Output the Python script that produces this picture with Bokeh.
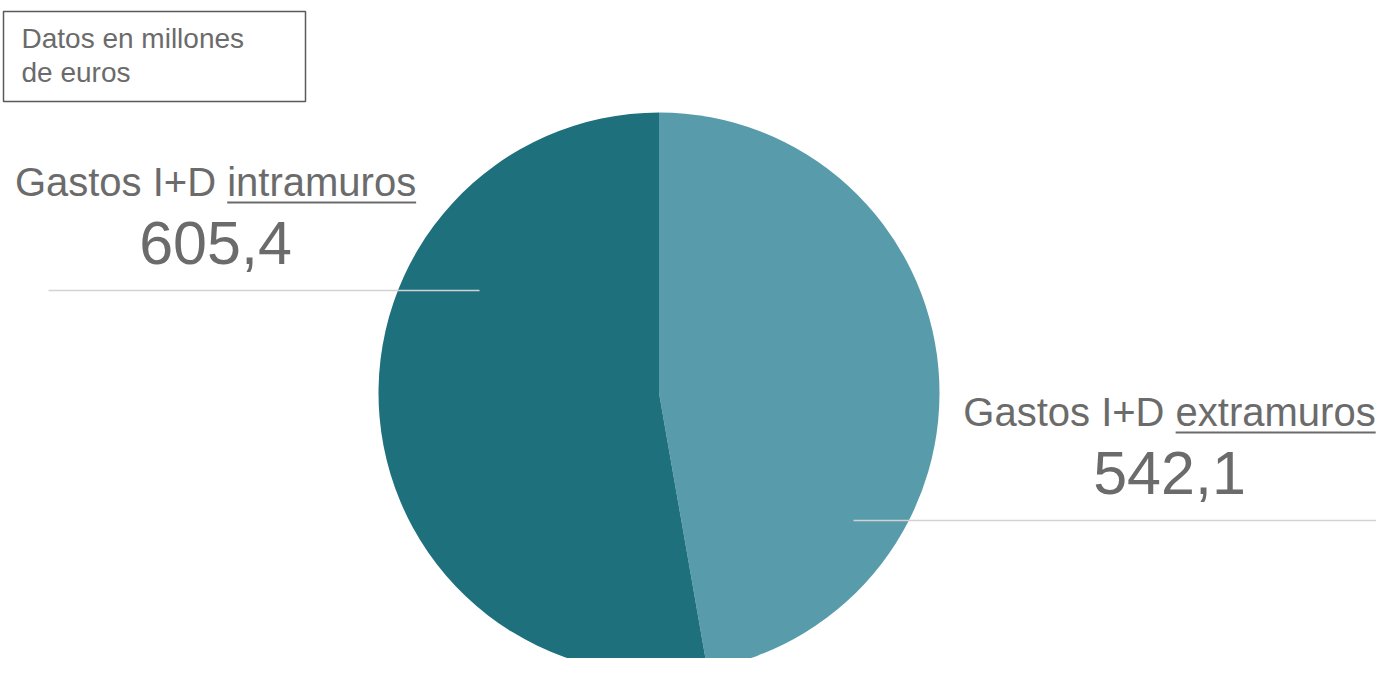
import numpy as np
from bokeh.plotting import figure
from bokeh.models import Range1d, ColumnDataSource
from bokeh.core.properties import value
from bokeh.embed import file_html
from bokeh.resources import INLINE

# ---- data ----
categories = ["Gastos I+D extramuros", "Gastos I+D intramuros"]
label_prefix = ["Gastos I+D ", "Gastos I+D "]
label_word = ["extramuros", "intramuros"]
values = [542.1, 605.4]
value_labels = ["542,1", "605,4"]
colors = ["#589BAB", "#1F707D"]
note_lines = ["Datos en millones", "de euros"]

W, H = 1376, 658
FONT = "Liberation Sans"
TXT = "#6b6b6b"
BL = 0.4  # baseline correction factor (em) for svg alphabetic baseline

p = figure(width=W, height=H, output_backend="svg", toolbar_location=None,
           x_range=Range1d(0, W), y_range=Range1d(0, H),
           x_axis_location=None, y_axis_location=None, min_border=0)
p.grid.visible = False
p.outline_line_color = None
p.background_fill_color = "white"
p.border_fill_color = "white"

# ---- pie ----
cx, cy, r = 658.5, 265.5, 280.5
vals = np.array(values, dtype=float)
frac = vals / vals.sum()
cum = np.concatenate([[0], np.cumsum(frac)])
start = np.pi / 2 - cum[:-1] * 2 * np.pi
end = np.pi / 2 - cum[1:] * 2 * np.pi
src = ColumnDataSource(dict(x=[cx] * len(vals), y=[cy] * len(vals),
                            start=list(start), end=list(end), color=colors))
p.wedge(x="x", y="y", radius=r, start_angle="start", end_angle="end",
        direction="clock", fill_color="color", line_color=None, source=src)

# ---- labels ----
# Arial / Liberation Sans advance widths (per 1000 em)
adv = {'G': 778, 'a': 556, 's': 500, 't': 278, 'o': 556, ' ': 278, 'I': 278,
       '+': 584, 'D': 722, 'i': 222, 'n': 556, 'r': 333, 'm': 833, 'u': 556,
       'e': 556, 'x': 500}


def tw(s, size):
    return sum(adv.get(c, 556) for c in s) / 1000 * size


label_pos = [  # (center x, name baseline, value baseline, leader y, leader x0, x1)
    (1169, 231, 161.3, 138, 853, W),
    (215, 461, 391.3, 368, 48, 479),
]
for i in range(len(categories)):
    x, yb, yv, ly, lx0, lx1 = label_pos[i]
    p.segment(x0=[lx0], y0=[ly], x1=[lx1], y1=[ly], line_color="#d2d2d2", line_width=1.5)
    full = label_prefix[i] + label_word[i]
    p.text(x=[x], y=[yb + BL * 40], text=[full], text_font=value(FONT), text_font_size="40px",
           text_color=TXT, text_align="center", text_baseline="alphabetic")
    fw = tw(full, 40)
    ux0 = x - fw / 2 + tw(label_prefix[i], 40)
    ux1 = x + fw / 2
    p.segment(x0=[ux0], y0=[yb - 5], x1=[ux1], y1=[yb - 5], line_color=TXT, line_width=2)
    p.text(x=[x], y=[yv + BL * 61], text=[value_labels[i]], text_font=value(FONT),
           text_font_size="61px", text_color=TXT, text_align="center",
           text_baseline="alphabetic")

# ---- note box ----
p.quad(left=[3], right=[305], top=[647], bottom=[557], fill_color="white",
       line_color="#5a5a5a", line_width=1.5)
p.text(x=[21, 21], y=[608.5 + BL * 28, 574.7 + BL * 28], text=note_lines, text_font=value(FONT),
       text_font_size="28px", text_color=TXT, text_align="left",
       text_baseline="alphabetic")

open("out.html", "w").write(file_html(p, INLINE))
